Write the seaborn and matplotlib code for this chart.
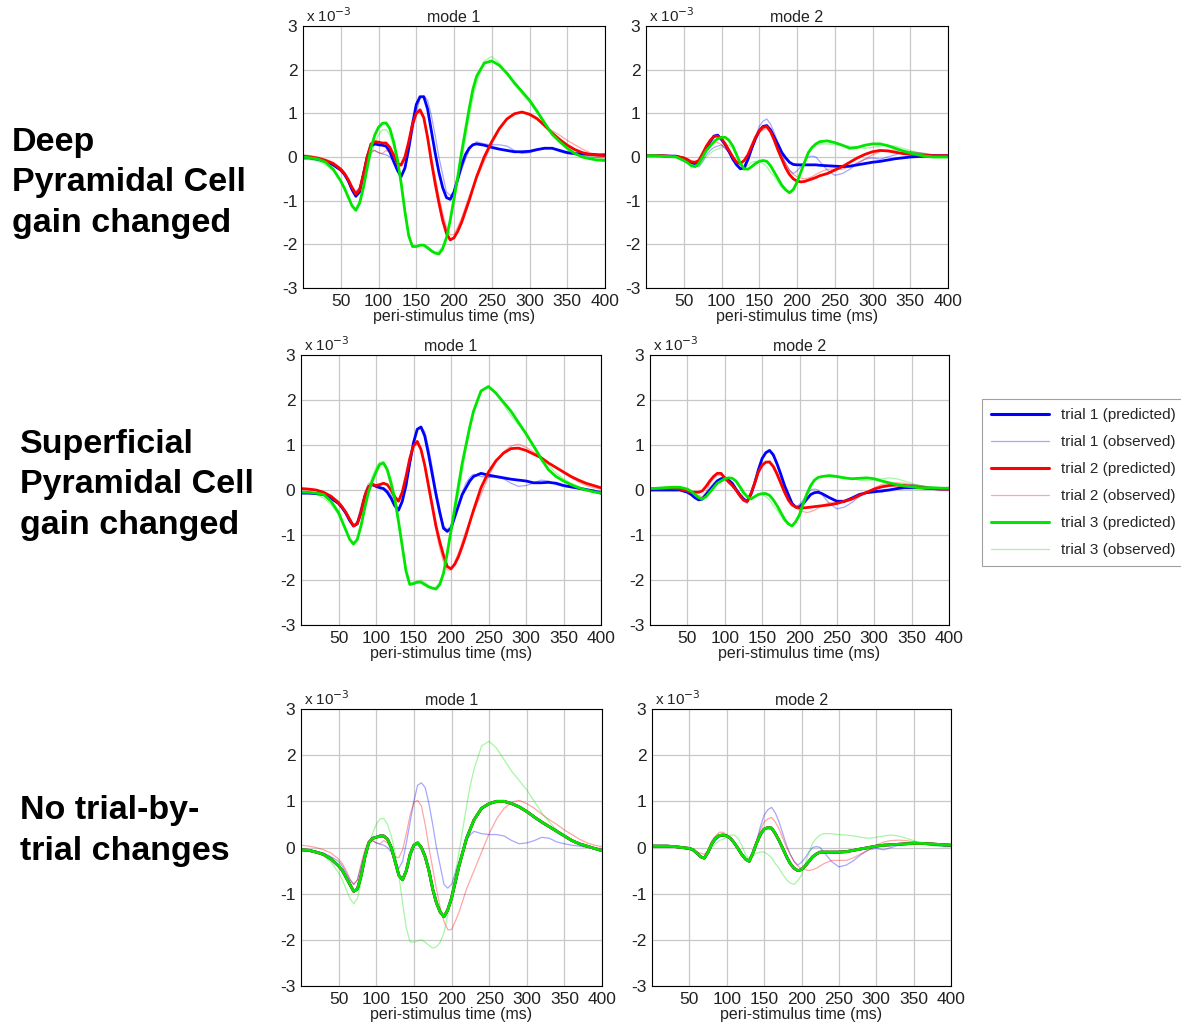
import numpy as np
import matplotlib
matplotlib.use("Agg")
import matplotlib.pyplot as plt
from matplotlib.lines import Line2D
import seaborn as sns

# peri-stimulus time (ms), shared by every curve
time_ms = [0, 10, 20, 30, 40,
           50, 55, 60, 65, 70, 75, 80, 85, 90, 95,
           100, 105, 110, 115, 120, 125, 130, 135, 140, 145,
           150, 155, 160, 165, 170, 175, 180, 185, 190, 195,
           200, 205, 210, 215, 220, 225, 230,
           240, 250, 260, 270, 280, 290, 300, 310, 320,
           330, 340, 350, 360, 370, 380, 390, 400]

# ---- observed data (x 10^-3), mode 1
obs1_trial1 = [-0.05, -0.05, -0.08, -0.12, -0.2,
               -0.3, -0.4, -0.55, -0.7, -0.8, -0.7, -0.4, -0.1, 0.1, 0.15,
               0.1, 0.07, 0.05, 0.0, -0.1, -0.3, -0.45, -0.3, 0.1, 0.55,
               1.0, 1.35, 1.4, 1.3, 0.95, 0.5, 0.0, -0.4, -0.8, -0.88,
               -0.8, -0.55, -0.3, -0.05, 0.15, 0.28, 0.35,
               0.3, 0.28, 0.28, 0.25, 0.15, 0.08, 0.1, 0.15, 0.22,
               0.2, 0.12, 0.08, 0.05, 0.03, 0.0, -0.01, -0.02]
obs1_trial2 = [0.05, 0.03, 0.0, -0.05, -0.12,
               -0.25, -0.35, -0.5, -0.68, -0.8, -0.7, -0.35, -0.05, 0.15, 0.15,
               0.1, 0.08, 0.15, 0.1, 0.0, -0.2, -0.22, -0.05, 0.3, 0.7,
               0.98, 1.02, 0.9, 0.5, 0.0, -0.45, -0.9, -1.3, -1.6, -1.78,
               -1.78, -1.6, -1.4, -1.15, -0.9, -0.7, -0.5,
               -0.1, 0.3, 0.62, 0.85, 0.98, 1.02, 0.95, 0.85, 0.72,
               0.6, 0.5, 0.38, 0.28, 0.18, 0.1, 0.05, 0.02]
obs1_trial3 = [-0.05, -0.06, -0.1, -0.18, -0.32,
               -0.55, -0.7, -0.9, -1.1, -1.22, -1.1, -0.75, -0.3, 0.05, 0.3,
               0.5, 0.62, 0.63, 0.5, 0.25, -0.1, -0.6, -1.2, -1.75, -2.05,
               -2.05, -2.02, -2.0, -2.05, -2.12, -2.18, -2.15, -2.05, -1.85, -1.45,
               -1.0, -0.55, -0.1, 0.4, 0.9, 1.35, 1.7,
               2.2, 2.3, 2.15, 1.9, 1.65, 1.45, 1.25, 1.0, 0.75,
               0.55, 0.38, 0.25, 0.15, 0.08, 0.02, -0.02, -0.05]

# ---- observed data, mode 2
obs2_trial1 = [0.03, 0.03, 0.03, 0.02, 0.0,
               -0.02, -0.05, -0.1, -0.2, -0.22, -0.1, 0.05, 0.15, 0.22, 0.25,
               0.27, 0.2, 0.1, -0.02, -0.15, -0.25, -0.28, -0.1, 0.15, 0.45,
               0.7, 0.82, 0.87, 0.75, 0.55, 0.3, 0.05, -0.15, -0.3, -0.38,
               -0.32, -0.22, -0.1, 0.0, 0.02, 0.0, -0.1,
               -0.3, -0.42, -0.38, -0.28, -0.15, -0.05, -0.02, -0.05, 0.0,
               0.05, 0.1, 0.12, 0.1, 0.08, 0.05, 0.02, 0.02]
obs2_trial2 = [0.03, 0.03, 0.03, 0.02, 0.0,
               -0.02, -0.05, -0.1, -0.12, -0.15, -0.05, 0.15, 0.25, 0.33, 0.33,
               0.28, 0.2, 0.1, -0.02, -0.15, -0.25, -0.3, -0.1, 0.15, 0.38,
               0.55, 0.62, 0.65, 0.55, 0.4, 0.2, 0.0, -0.15, -0.3, -0.4,
               -0.45, -0.48, -0.5, -0.48, -0.45, -0.4, -0.35,
               -0.28, -0.28, -0.28, -0.22, -0.13, -0.05, 0.05, 0.12, 0.15,
               0.16, 0.15, 0.12, 0.1, 0.07, 0.05, 0.04, 0.03]
obs2_trial3 = [0.03, 0.03, 0.03, 0.02, 0.0,
               -0.02, -0.08, -0.15, -0.2, -0.22, -0.12, 0.0, 0.08, 0.15, 0.18,
               0.22, 0.27, 0.27, 0.2, 0.05, -0.15, -0.25, -0.2, -0.12, -0.1,
               -0.1, -0.15, -0.22, -0.35, -0.45, -0.58, -0.7, -0.77, -0.8, -0.72,
               -0.6, -0.35, -0.1, 0.1, 0.2, 0.27, 0.3,
               0.3, 0.28, 0.27, 0.25, 0.22, 0.2, 0.22, 0.25, 0.27,
               0.25, 0.2, 0.15, 0.1, 0.06, 0.03, 0.02, 0.02]

# ---- predicted: deep pyramidal cell gain changed
deep1_trial1 = [0.0, -0.02, -0.05, -0.1, -0.18,
                -0.3, -0.4, -0.55, -0.75, -0.9, -0.8, -0.4, 0.0, 0.25, 0.3,
                0.28, 0.27, 0.25, 0.12, -0.1, -0.3, -0.45, -0.25, 0.2, 0.75,
                1.2, 1.38, 1.38, 1.1, 0.6, 0.1, -0.35, -0.7, -0.93, -0.97,
                -0.8, -0.5, -0.2, 0.05, 0.2, 0.28, 0.3,
                0.27, 0.22, 0.18, 0.15, 0.12, 0.12, 0.13, 0.17, 0.2,
                0.2, 0.15, 0.1, 0.08, 0.07, 0.06, 0.05, 0.05]
deep1_trial2 = [0.02, 0.0, -0.03, -0.08, -0.15,
                -0.28, -0.38, -0.52, -0.7, -0.85, -0.75, -0.4, 0.0, 0.3, 0.35,
                0.34, 0.32, 0.32, 0.22, 0.05, -0.15, -0.18, 0.0, 0.35, 0.75,
                1.0, 1.08, 0.9, 0.45, -0.1, -0.6, -1.05, -1.45, -1.75, -1.9,
                -1.85, -1.7, -1.5, -1.25, -1.0, -0.72, -0.45,
                0.0, 0.35, 0.65, 0.87, 0.99, 1.03, 0.98, 0.88, 0.72,
                0.55, 0.4, 0.27, 0.17, 0.1, 0.06, 0.04, 0.03]
deep1_trial3 = [0.0, -0.02, -0.05, -0.12, -0.28,
                -0.55, -0.72, -0.92, -1.12, -1.22, -1.05, -0.7, -0.25, 0.2, 0.5,
                0.68, 0.77, 0.78, 0.65, 0.35, -0.05, -0.6, -1.25, -1.8, -2.05,
                -2.05, -2.02, -2.02, -2.08, -2.15, -2.2, -2.22, -2.1, -1.85, -1.45,
                -0.95, -0.45, 0.1, 0.6, 1.1, 1.55, 1.85,
                2.15, 2.2, 2.1, 1.92, 1.7, 1.5, 1.3, 1.05, 0.78,
                0.52, 0.35, 0.2, 0.08, 0.0, -0.04, -0.07, -0.08]
deep2_trial1 = [0.03, 0.03, 0.03, 0.02, 0.02,
                -0.03, -0.08, -0.13, -0.15, -0.1, 0.05, 0.2, 0.35, 0.48, 0.5,
                0.4, 0.28, 0.12, -0.05, -0.18, -0.27, -0.25, -0.05, 0.2, 0.42,
                0.6, 0.7, 0.72, 0.62, 0.45, 0.28, 0.1, -0.02, -0.12, -0.17,
                -0.18, -0.18, -0.18, -0.18, -0.18, -0.18, -0.19,
                -0.2, -0.21, -0.22, -0.21, -0.18, -0.15, -0.12, -0.1, -0.07,
                -0.04, -0.02, 0.0, 0.01, 0.02, 0.03, 0.03, 0.03]
deep2_trial2 = [0.03, 0.03, 0.03, 0.02, 0.01,
                -0.02, -0.06, -0.11, -0.12, -0.08, 0.08, 0.25, 0.38, 0.47, 0.48,
                0.42, 0.3, 0.15, 0.0, -0.12, -0.15, -0.08, 0.05, 0.25, 0.45,
                0.6, 0.68, 0.7, 0.58, 0.38, 0.15, -0.05, -0.25, -0.4, -0.5,
                -0.55, -0.57, -0.56, -0.53, -0.5, -0.47, -0.43,
                -0.38, -0.3, -0.22, -0.12, -0.02, 0.06, 0.12, 0.15, 0.14,
                0.11, 0.08, 0.06, 0.05, 0.04, 0.03, 0.03, 0.03]
deep2_trial3 = [0.03, 0.03, 0.02, 0.01, 0.0,
                -0.08, -0.13, -0.2, -0.22, -0.15, 0.0, 0.15, 0.25, 0.35, 0.42,
                0.45, 0.45, 0.38, 0.25, 0.05, -0.15, -0.27, -0.28, -0.22, -0.15,
                -0.1, -0.08, -0.1, -0.2, -0.35, -0.5, -0.65, -0.75, -0.82, -0.75,
                -0.58, -0.35, -0.12, 0.1, 0.22, 0.3, 0.35,
                0.37, 0.33, 0.27, 0.2, 0.22, 0.27, 0.3, 0.3, 0.26,
                0.2, 0.14, 0.09, 0.05, 0.02, 0.0, 0.0, 0.0]

# ---- predicted: superficial pyramidal cell gain changed
sup1_trial1 = [-0.07, -0.07, -0.08, -0.1, -0.18,
               -0.3, -0.4, -0.52, -0.68, -0.8, -0.75, -0.5, -0.15, 0.07, 0.12,
               0.08, 0.05, 0.03, -0.05, -0.18, -0.35, -0.45, -0.25, 0.1, 0.6,
               1.05, 1.35, 1.4, 1.2, 0.8, 0.35, -0.1, -0.5, -0.85, -0.92,
               -0.85, -0.6, -0.35, -0.1, 0.05, 0.2, 0.3,
               0.37, 0.33, 0.3, 0.27, 0.24, 0.22, 0.2, 0.16, 0.16,
               0.17, 0.15, 0.1, 0.07, 0.04, 0.01, -0.02, -0.07]
sup1_trial2 = [0.03, 0.02, 0.0, -0.05, -0.14,
               -0.28, -0.38, -0.5, -0.65, -0.8, -0.75, -0.5, -0.15, 0.07, 0.12,
               0.1, 0.12, 0.15, 0.12, 0.0, -0.15, -0.25, -0.05, 0.3, 0.7,
               0.98, 1.08, 0.9, 0.55, 0.1, -0.35, -0.8, -1.15, -1.45, -1.7,
               -1.75, -1.65, -1.48, -1.25, -1.0, -0.72, -0.45,
               0.05, 0.4, 0.65, 0.82, 0.92, 0.93, 0.88, 0.8, 0.72,
               0.6, 0.5, 0.4, 0.3, 0.22, 0.15, 0.1, 0.05]
sup1_trial3 = [-0.05, -0.05, -0.07, -0.1, -0.25,
               -0.5, -0.7, -0.9, -1.1, -1.2, -1.1, -0.8, -0.4, -0.05, 0.2,
               0.4, 0.57, 0.6, 0.45, 0.15, -0.2, -0.7, -1.25, -1.8, -2.1,
               -2.08, -2.05, -2.05, -2.1, -2.15, -2.18, -2.2, -2.1, -1.85, -1.4,
               -0.9, -0.4, 0.1, 0.6, 1.0, 1.4, 1.75,
               2.2, 2.3, 2.15, 1.95, 1.75, 1.5, 1.25, 0.98, 0.7,
               0.45, 0.3, 0.2, 0.12, 0.05, 0.0, -0.04, -0.07]
sup2_trial1 = [0.0, 0.0, 0.0, 0.0, 0.0,
               -0.05, -0.1, -0.17, -0.22, -0.2, -0.1, 0.0, 0.1, 0.2, 0.25,
               0.27, 0.22, 0.15, 0.02, -0.1, -0.2, -0.25, -0.1, 0.15, 0.45,
               0.7, 0.83, 0.88, 0.78, 0.58, 0.35, 0.1, -0.1, -0.3, -0.38,
               -0.38, -0.3, -0.2, -0.1, -0.06, -0.05, -0.08,
               -0.17, -0.25, -0.25, -0.18, -0.1, -0.06, -0.04, -0.02, 0.0,
               0.03, 0.05, 0.05, 0.05, 0.04, 0.03, 0.02, 0.02]
sup2_trial2 = [0.03, 0.03, 0.04, 0.04, 0.02,
               -0.02, -0.05, -0.05, -0.05, -0.02, 0.08, 0.2, 0.3, 0.37, 0.37,
               0.27, 0.18, 0.1, 0.0, -0.12, -0.22, -0.25, -0.08, 0.15, 0.4,
               0.55, 0.62, 0.62, 0.52, 0.35, 0.15, -0.05, -0.22, -0.33, -0.38,
               -0.4, -0.4, -0.39, -0.38, -0.37, -0.36, -0.35,
               -0.33, -0.3, -0.25, -0.2, -0.12, -0.05, 0.02, 0.07, 0.1,
               0.11, 0.1, 0.08, 0.06, 0.04, 0.03, 0.02, 0.02]
sup2_trial3 = [0.03, 0.04, 0.05, 0.06, 0.06,
               0.02, -0.03, -0.1, -0.17, -0.2, -0.15, -0.05, 0.05, 0.15, 0.2,
               0.25, 0.27, 0.26, 0.2, 0.08, -0.05, -0.15, -0.2, -0.15, -0.1,
               -0.08, -0.08, -0.12, -0.22, -0.35, -0.5, -0.65, -0.75, -0.8, -0.7,
               -0.55, -0.3, -0.08, 0.1, 0.22, 0.28, 0.3,
               0.32, 0.3, 0.27, 0.25, 0.26, 0.27, 0.25, 0.2, 0.16,
               0.12, 0.09, 0.07, 0.05, 0.05, 0.05, 0.04, 0.04]

# ---- predicted: no trial-by-trial changes (same for all trials)
none1_all = [-0.05, -0.06, -0.1, -0.15, -0.25,
             -0.4, -0.5, -0.65, -0.8, -0.95, -0.9, -0.6, -0.2, 0.1, 0.2,
             0.22, 0.25, 0.25, 0.18, 0.0, -0.3, -0.6, -0.7, -0.5, -0.15,
             0.05, 0.1, 0.0, -0.2, -0.5, -0.9, -1.2, -1.4, -1.5, -1.35,
             -1.1, -0.75, -0.4, -0.1, 0.2, 0.4, 0.6,
             0.85, 0.95, 1.0, 1.0, 0.95, 0.88, 0.78, 0.66, 0.55,
             0.45, 0.35, 0.25, 0.15, 0.08, 0.03, -0.02, -0.07]
none2_all = [0.03, 0.03, 0.03, 0.02, 0.0,
             -0.02, -0.05, -0.12, -0.2, -0.23, -0.1, 0.08, 0.2, 0.26, 0.27,
             0.25, 0.2, 0.1, -0.02, -0.15, -0.25, -0.3, -0.12, 0.1, 0.28,
             0.4, 0.43, 0.42, 0.3, 0.15, -0.02, -0.2, -0.35, -0.45, -0.5,
             -0.48, -0.4, -0.3, -0.2, -0.14, -0.1, -0.1,
             -0.1, -0.1, -0.09, -0.06, -0.03, 0.0, 0.03, 0.05, 0.06,
             0.07, 0.08, 0.09, 0.09, 0.08, 0.07, 0.06, 0.05]

row_labels = ["Deep\nPyramidal Cell\ngain changed",
              "Superficial\nPyramidal Cell\ngain changed",
              "No trial-by-\ntrial changes"]
mode_titles = ["mode 1", "mode 2"]
observed = [[obs1_trial1, obs1_trial2, obs1_trial3],
            [obs2_trial1, obs2_trial2, obs2_trial3]]
predicted = [
    [[deep1_trial1, deep1_trial2, deep1_trial3], [deep2_trial1, deep2_trial2, deep2_trial3]],
    [[sup1_trial1, sup1_trial2, sup1_trial3], [sup2_trial1, sup2_trial2, sup2_trial3]],
    [[none1_all, none1_all, none1_all], [none2_all, none2_all, none2_all]],
]
trial_colors = ["#0000ff", "#ff0000", "#00e600"]
x_ticks = [50, 100, 150, 200, 250, 300, 350, 400]
y_ticks = [-3, -2, -1, 0, 1, 2, 3]

sns.set_theme(style="whitegrid")
plt.rcParams["font.family"] = ["Liberation Sans", "DejaVu Sans"]
plt.rcParams["axes.unicode_minus"] = False

W, H = 1181, 1033
fig = plt.figure(figsize=(W / 100, H / 100), dpi=100)
fig.patch.set_facecolor("white")

# axes boxes in pixels: (left, top, right, bottom)
boxes = [
    [(303, 26, 605, 288), (646, 26, 948, 288)],
    [(301, 355, 601, 625), (650, 355, 949, 625)],
    [(301, 709, 602, 986), (652, 709, 951, 986)],
]

for r in range(3):
    for m in range(2):
        l, t, rr, b = boxes[r][m]
        ax = fig.add_axes([l / W, 1 - b / H, (rr - l) / W, (b - t) / H])
        ax.set_facecolor("white")
        for k in range(3):
            sns.lineplot(x=time_ms, y=observed[m][k], ax=ax, color=trial_colors[k],
                         linewidth=0.9, alpha=0.35, sort=False)
        for k in range(3):
            sns.lineplot(x=time_ms, y=predicted[r][m][k], ax=ax, color=trial_colors[k],
                         linewidth=2.0, sort=False)
        ax.set_xlim(0, 400)
        ax.set_ylim(-3, 3)
        ax.set_xticks(x_ticks)
        ax.set_yticks(y_ticks)
        ax.set_xticklabels([str(v) for v in x_ticks], fontsize=12.5)
        ax.set_yticklabels([str(v) for v in y_ticks], fontsize=12.5)
        ax.grid(True, color="#c8c8c8", linewidth=0.9)
        ax.tick_params(direction="in", length=3, pad=4, colors="black", labelcolor="#222222")
        for s in ax.spines.values():
            s.set_visible(True)
            s.set_color("black")
            s.set_linewidth(0.8)
        ax.set_xlabel("peri-stimulus time (ms)", fontsize=11.5, labelpad=0, color="#222222")
        ax.set_ylabel("")
        ax.set_title(mode_titles[m], fontsize=11.5, pad=3, color="#222222")
        ax.text(0.01, 1.005, r"x 10$^{-3}$", transform=ax.transAxes, fontsize=11,
                ha="left", va="bottom", color="#222222")

# row labels
label_pos = [(12, 183), (20, 485), (20, 831)]
for (px, py), lab in zip(label_pos, row_labels):
    fig.text(px / W, 1 - py / H, lab, fontsize=24.5, fontweight="bold",
             ha="left", va="center", linespacing=1.4, color="black")

handles = []
names = []
for k in range(3):
    handles.append(Line2D([], [], color=trial_colors[k], linewidth=2.2))
    names.append(f"trial {k + 1} (predicted)")
    handles.append(Line2D([], [], color=trial_colors[k], linewidth=0.9, alpha=0.35))
    names.append(f"trial {k + 1} (observed)")
leg = fig.legend(handles, names, loc="upper left", bbox_to_anchor=(982 / W, 1 - 399 / H),
                 fontsize=11, frameon=True, fancybox=False, handlelength=3.8,
                 labelspacing=0.85, borderpad=0.6, handletextpad=0.8, borderaxespad=0)
leg.get_frame().set_edgecolor("#888888")
leg.get_frame().set_linewidth(0.8)

fig.savefig("out.png", dpi=100, facecolor="white")
